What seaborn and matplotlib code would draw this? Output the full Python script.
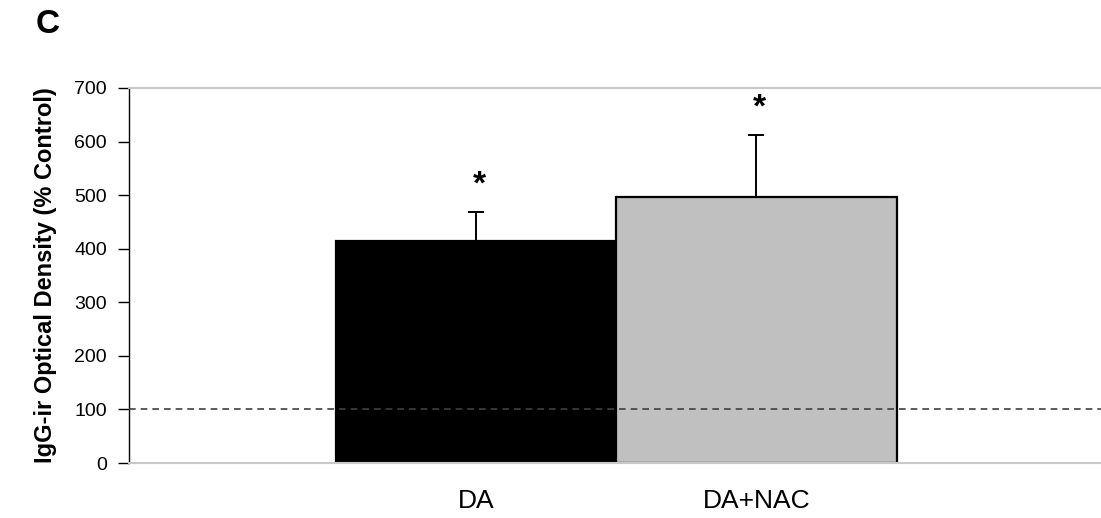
import matplotlib
matplotlib.use("Agg")
import matplotlib.pyplot as plt
import seaborn as sns
import pandas as pd
import numpy as np

groups = ["DA", "DA+NAC"]
means = [414, 497]
sem_up = [55, 115]
bar_colors = ["#000000", "#C0C0C0"]
yticks = [0, 100, 200, 300, 400, 500, 600, 700]
control_level = 100
ylabel = "IgG-ir Optical Density (% Control)"
panel = "C"

sns.set_theme(style="white")
plt.rcParams["font.family"] = ["Liberation Sans", "DejaVu Sans"]
plt.rcParams["text.color"] = "black"
plt.rcParams["axes.labelcolor"] = "black"
plt.rcParams["xtick.color"] = "black"
plt.rcParams["ytick.color"] = "black"

df = pd.DataFrame({"group": groups, "value": means})

fig = plt.figure(figsize=(11.01, 5.18), dpi=100)
ax = fig.add_axes([129 / 1101, 1 - 463 / 518, 1 - 129 / 1101, (463 - 88) / 518])

sns.barplot(data=df, x="group", y="value", hue="group", palette=bar_colors,
            width=1.0, edgecolor="black", linewidth=1.6, legend=False, ax=ax,
            zorder=2)

xpos = np.arange(len(groups))
ax.errorbar(xpos, means, yerr=[np.zeros(len(means)), sem_up], fmt="none",
            ecolor="black", elinewidth=1.4, capsize=6, capthick=1.4, zorder=3)

for x, m, e in zip(xpos, means, sem_up):
    ax.annotate("*", xy=(x, m + e), xytext=(2, 8), textcoords="offset points",
                ha="center", va="bottom", fontsize=24, fontweight="bold")

ax.axhline(control_level, color="#404040", linestyle=(0, (4, 3)), linewidth=1.2,
           zorder=4)

ax.set_ylim(0, 700)
ax.set_xlim(-1.24, 2.23)
ax.set_yticks(yticks)
ax.set_yticklabels([str(t) for t in yticks], fontsize=14)
ax.tick_params(axis="y", which="major", direction="out", length=8, width=1,
               color="black", pad=8, left=True)
ax.tick_params(axis="x", length=0, pad=19, labelsize=19)
ax.set_xlabel("")
ax.set_ylabel(ylabel, fontsize=17, fontweight="bold", labelpad=12)

for s in ["top", "bottom"]:
    ax.spines[s].set_color("#C8C8C8")
    ax.spines[s].set_linewidth(1.5)
ax.spines["right"].set_visible(False)
ax.spines["left"].set_color("black")
ax.spines["left"].set_linewidth(1.0)
ax.grid(False)

fig.text(36 / 1101, 1 - 33 / 518, panel, fontsize=24, fontweight="heavy",
         ha="left", va="baseline")

fig.savefig("out.png", dpi=100)
